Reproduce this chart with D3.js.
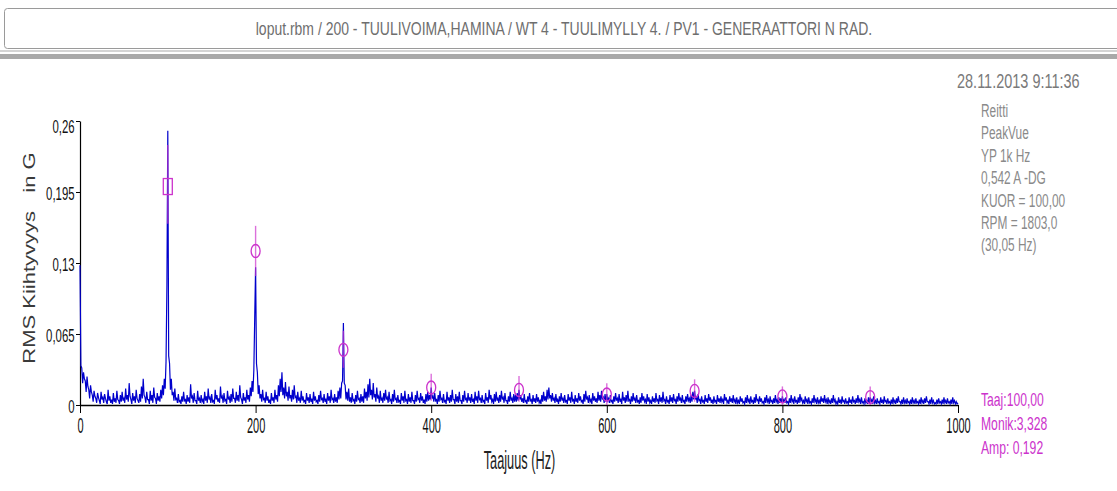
<!DOCTYPE html>
<html lang="fi">
<head>
<meta charset="UTF-8">
<script src="https://cdn.jsdelivr.net/npm/d3@7"></script>
<title>PeakVue spektri</title>
<style>
  body { margin: 0; background: #fff; }
  svg { display: block; }
  text { font-family: 'Liberation Sans', Arial, sans-serif; }
</style>
</head>
<body>
<script>
// spectrum: one amplitude every 1 Hz from 0 to 1000 Hz, in milli-G (one row = 50 Hz)
const freqStep = 1;
const ampMilliG = [
  128,36,34,20,30,24,22,12,26,17,14,6,18,12,9,3,13,8,6,2,11,7,4,1,12,5,7,2,10,6,3,1,14,4,8,2,5,1,11,3,6,2,13,5,4,1,9,3,12,4,
  6,2,15,5,9,3,20,8,5,1,11,4,8,2,14,6,4,2,10,3,17,6,24,9,7,2,12,5,5,1,13,4,9,2,16,7,6,1,11,4,8,3,14,6,18,9,24,15,40,110,
  251,45,38,14,24,9,12,4,15,5,6,2,10,3,4,1,8,3,12,4,5,1,9,3,7,2,19,6,8,2,11,4,4,1,13,4,6,2,9,3,5,1,12,4,8,2,15,5,7,2,
  10,3,4,1,14,5,9,3,6,2,17,6,8,2,11,4,5,1,13,5,7,2,10,3,15,6,6,2,12,4,9,3,18,7,5,1,11,4,7,2,14,5,9,3,16,8,22,12,32,80,
  126,38,30,10,18,6,10,3,14,5,6,2,12,4,8,2,5,1,11,4,7,2,14,5,9,3,18,8,24,12,30,9,16,6,21,8,12,4,17,6,9,3,14,5,18,7,8,2,12,4,
  6,2,13,4,8,3,4,1,11,4,7,2,10,3,5,1,12,4,8,3,4,1,9,3,13,5,6,2,10,3,5,1,11,4,8,2,14,5,6,2,10,3,7,2,13,5,16,6,20,22,
  75,20,18,5,12,4,15,3,7,2,11,4,5,1,9,3,13,5,6,2,10,3,8,2,15,6,12,4,19,7,24,9,14,5,20,7,10,3,16,6,8,2,13,4,6,2,11,4,14,5,
  7,2,12,4,5,1,10,3,14,5,6,2,9,3,4,1,11,4,8,2,13,4,5,1,10,3,7,2,12,4,4,1,9,3,13,5,6,2,11,4,8,2,5,1,10,3,12,4,9,5,
  16,6,8,3,11,4,5,1,9,3,13,5,6,2,10,3,4,1,12,4,7,2,9,3,14,5,5,1,10,3,8,2,12,4,4,1,9,3,13,5,6,2,11,4,7,2,10,3,5,1,
  12,4,8,2,13,5,6,2,9,3,4,1,11,4,7,2,14,5,9,3,5,1,10,3,12,4,6,2,9,3,13,5,7,2,11,4,4,1,8,3,12,4,6,2,10,3,9,3,11,4,
  14,5,9,3,6,2,10,3,4,1,8,3,11,4,5,1,9,3,6,2,10,3,7,2,4,1,9,3,12,4,8,3,14,5,16,6,9,3,11,4,6,2,10,3,5,1,8,3,11,4,
  6,2,9,3,4,1,10,4,7,2,12,4,5,1,9,3,6,2,11,4,8,3,4,1,10,3,13,5,7,2,9,3,5,1,11,4,8,3,6,2,12,4,9,3,13,5,7,2,10,3,
  10,4,6,2,9,3,4,1,8,3,11,4,6,2,10,3,5,1,12,4,7,2,9,3,13,4,5,1,8,3,11,4,6,2,9,3,4,1,7,2,11,4,8,3,5,1,10,3,7,2,
  4,1,8,3,6,2,11,4,5,1,9,3,7,2,12,4,5,1,8,3,4,1,9,3,7,2,10,4,5,1,8,3,11,4,6,2,9,3,4,1,8,3,10,4,6,2,9,3,12,5,
  13,5,7,2,10,4,5,1,8,3,4,1,9,3,6,2,10,4,7,2,5,1,8,3,4,1,9,3,6,2,8,3,5,1,10,4,7,2,4,1,8,3,6,2,9,3,5,1,7,2,
  4,1,8,3,6,2,3,1,7,2,9,3,5,1,8,3,4,1,7,2,10,4,5,1,8,3,6,2,3,1,7,2,9,3,5,1,8,3,4,1,6,2,9,3,5,1,7,2,6,2,
  8,3,5,2,7,2,3,1,6,2,9,3,5,1,8,3,4,1,7,2,10,4,6,2,4,1,8,3,5,1,7,2,3,1,6,2,9,3,5,1,7,2,4,1,8,3,6,2,9,3,
  5,1,7,2,4,1,6,2,9,3,5,1,3,1,7,2,5,1,8,3,4,1,6,2,3,1,7,2,5,1,8,3,4,1,6,2,9,3,5,1,7,2,3,1,6,2,4,1,7,2,
  7,3,5,1,8,2,4,1,6,2,3,1,7,2,5,1,8,3,4,1,6,2,3,1,5,1,7,2,4,1,6,2,8,3,3,1,5,1,7,2,4,1,6,2,3,1,5,1,7,2,
  4,1,6,2,3,1,5,1,7,2,4,1,6,2,8,3,3,1,5,1,7,2,4,1,2,1,5,1,6,2,3,1,5,1,7,2,4,1,6,2,3,1,5,1,7,2,4,1,3,1,
  2
];

// harmonic cursor markers (G)
const harmonicHz = [100, 200, 300, 400, 500, 600, 700, 800, 900];
const markerAmp = [0.200, 0.141, 0.0505, 0.016, 0.0138, 0.0096, 0.0129, 0.0079, 0.0073];
const markerHi  = [0.238, 0.164, 0.068, 0.0285, 0.0265, 0.020, 0.0235, 0.017, 0.017];
const markerLo  = [0.166, 0.118, 0.034, 0.004, 0.003, 0.0, 0.003, 0.0, 0.0];

const xTicks = [0, 200, 400, 600, 800, 1000];
const yTicks = [0, 0.065, 0.13, 0.195, 0.26];
const yTickLabels = ["0", "0,065", "0,13", "0,195", "0,26"];

const titleText = "loput.rbm / 200 - TUULIVOIMA,HAMINA / WT 4 - TUULIMYLLY 4. / PV1 - GENERAATTORI N RAD.";
const dateText = "28.11.2013 9:11:36";
const infoLines = ["Reitti", "PeakVue", "YP 1k Hz", "0,542 A -DG", "KUOR = 100,00", "RPM = 1803,0", "(30,05 Hz)"];
const cursorLines = ["Taaj:100,00", "Monik:3,328", "Amp: 0,192"];

const width = 1117, height = 491;
const x0 = 80, x1 = 958, yTop = 121, yBottom = 405;
const magenta = "#cc33cc";

const svg = d3.select("body").append("svg").attr("width", width).attr("height", height);

// header box
svg.append("rect").attr("x", 4.5).attr("y", 8.5).attr("width", 1130).attr("height", 40)
  .attr("rx", 3).attr("fill", "#fff").attr("stroke", "#9a9a9a");
svg.append("rect").attr("x", 0).attr("y", 50).attr("width", width).attr("height", 2).attr("fill", "#d4d4d4");
svg.append("rect").attr("x", 0).attr("y", 54).attr("width", width).attr("height", 5).attr("fill", "#a9a9a9");

// squashed text helper (the original screenshot is narrow)
function label(x, y, str, fs, k, color, anchor) {
  return svg.append("g").attr("transform", `translate(${x},${y}) scale(${k},1)`)
    .append("text").attr("font-size", fs).attr("fill", color)
    .attr("text-anchor", anchor || "start").text(str);
}

label(564, 35, titleText, 18, 0.777, "#6e6e6e", "middle");
label(957, 88, dateText, 21, 0.69, "#7a7a7a");
infoLines.forEach((t, i) => label(981, 117 + i * 22.4, t, 18, 0.66, "#8a8a8a"));
cursorLines.forEach((t, i) => label(981, 406 + i * 24, t, 19, 0.64, magenta));

const x = d3.scaleLinear().domain([0, 1000]).range([x0, x1]);
const y = d3.scaleLinear().domain([0, 0.26]).range([yBottom, yTop]);

// axes
const axisX = d3.axisBottom(x).tickValues(xTicks).tickSize(8).tickPadding(4).tickSizeOuter(0)
  .tickFormat(d3.format("d"));
const gx = svg.append("g").attr("transform", `translate(0,${yBottom})`).call(axisX);
gx.select(".domain").attr("stroke", "#000").attr("stroke-width", 1.6);
gx.selectAll(".tick line").attr("stroke", "#000");
gx.selectAll(".tick text").attr("font-size", 22).attr("fill", "#111")
  .attr("font-family", "'Liberation Sans', Arial, sans-serif")
  .attr("transform", "scale(0.5,1)");

const axisY = d3.axisLeft(y).tickValues(yTicks).tickSize(4).tickPadding(5).tickSizeOuter(0)
  .tickFormat((d, i) => yTickLabels[i]);
const gy = svg.append("g").attr("transform", `translate(${x0},0)`).call(axisY);
gy.select(".domain").attr("stroke", "#000").attr("stroke-width", 1.2);
gy.selectAll(".tick line").attr("stroke", "#000");
gy.selectAll(".tick text").attr("font-size", 19).attr("fill", "#111")
  .attr("font-family", "'Liberation Sans', Arial, sans-serif")
  .attr("transform", "scale(0.6,1)")
  .attr("dy", (d, i) => i === yTicks.length - 1 ? "0.62em" : "0.42em");

// axis titles
label(519.5, 469, "Taajuus (Hz)", 25, 0.51, "#222", "middle");
svg.append("g").attr("transform", `translate(35,258) scale(0.78,1) rotate(-90)`)
  .append("text").attr("font-size", 22).attr("fill", "#3a3a3a").attr("text-anchor", "middle")
  .attr("xml:space", "preserve").style("white-space", "pre")
  .text("RMS Kiihtyvyys   in G");

// spectrum
const spectrum = ampMilliG.map((v, i) => [i * freqStep, v / 1000]);
svg.append("path").datum(spectrum)
  .attr("fill", "none").attr("stroke", "#0000cc").attr("stroke-width", 1.2)
  .attr("d", d3.line().x(d => x(d[0])).y(d => y(d[1])));

// cursor / harmonic markers
const mk = svg.append("g");
mk.selectAll("line").data(harmonicHz).enter().append("line")
  .attr("x1", d => x(d)).attr("x2", d => x(d))
  .attr("y1", (d, i) => y(markerHi[i])).attr("y2", (d, i) => y(markerLo[i]))
  .attr("stroke", magenta).attr("stroke-opacity", 0.7).attr("stroke-width", 1.4);
mk.selectAll("ellipse").data(harmonicHz.slice(1)).enter().append("ellipse")
  .attr("cx", d => x(d)).attr("cy", (d, i) => y(markerAmp[i + 1]))
  .attr("rx", 4.5).attr("ry", 6.5)
  .attr("fill", "none").attr("stroke", magenta).attr("stroke-width", 1.3);
mk.append("rect")
  .attr("x", x(harmonicHz[0]) - 4.5).attr("y", y(markerAmp[0]) - 8)
  .attr("width", 9).attr("height", 16)
  .attr("fill", "none").attr("stroke", magenta).attr("stroke-width", 1.3);
</script>
</body>
</html>
